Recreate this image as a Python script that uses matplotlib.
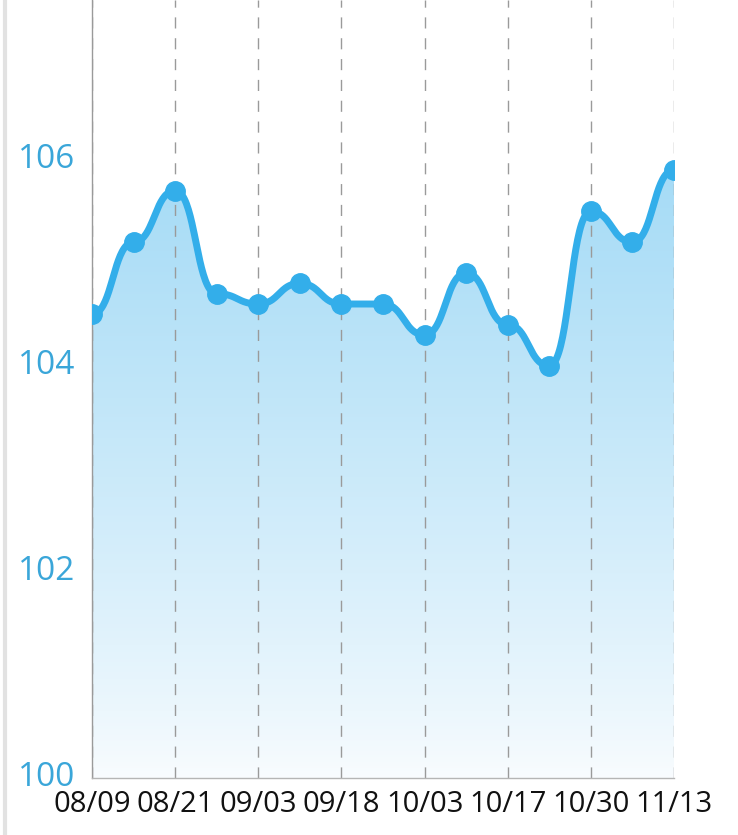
import numpy as np
import matplotlib.pyplot as plt
from matplotlib.lines import Line2D

dates = ['08/09', '', '08/21', '', '09/03', '', '09/18', '',
         '10/03', '', '10/17', '', '10/30', '', '11/13']
values = [104.5, 105.2, 105.7, 104.7, 104.6, 104.8, 104.6, 104.6,
          104.3, 104.9, 104.4, 104.0, 105.5, 105.2, 105.9]
yticks = [100, 102, 104, 106]

LINE = '#33aeea'
BLUE_TXT = '#3aa6d9'


def hbezier(x, y, n=40):
    # horizontal bezier: control points at mid x, same y as the ends
    xs, ys = [], []
    t = np.linspace(0, 1, n, endpoint=False)
    b0 = (1 - t) ** 3
    b1 = 3 * (1 - t) ** 2 * t
    b2 = 3 * (1 - t) * t ** 2
    b3 = t ** 3
    for i in range(len(x) - 1):
        x0, x1 = x[i], x[i + 1]
        y0, y1 = y[i], y[i + 1]
        xm = (x0 + x1) / 2
        xs.append(b0 * x0 + b1 * xm + b2 * xm + b3 * x1)
        ys.append(b0 * y0 + b1 * y0 + b2 * y1 + b3 * y1)
    xs.append([x[-1]])
    ys.append([y[-1]])
    return np.concatenate(xs), np.concatenate(ys)


x = np.arange(len(values))
sx, sy = hbezier(x, values)

fig = plt.figure(figsize=(7.38, 8.35), dpi=100)
ax = fig.add_axes([92 / 738, 57 / 835, 582 / 738, 778 / 835])
ymin, ymax = 100, 107.55
ax.set_xlim(0, len(values) - 1)
ax.set_ylim(ymin, ymax)

# gradient fill under the curve
grad = np.linspace(0, 1, 256).reshape(-1, 1)
top = np.array([0.65, 0.86, 0.965])
bot = np.array([0.975, 0.988, 0.997])
img = bot + (top - bot) * grad[..., None] ** 0.85
im = ax.imshow(img, extent=[0, len(values) - 1, ymin, max(values)],
               origin='lower', aspect='auto', zorder=1)
poly = ax.fill_between(sx, ymin, sy, color='none')
clip = poly.get_paths()[0]
im.set_clip_path(clip, transform=ax.transData)

for i in range(0, len(values), 2):
    ax.axvline(i, color='#9a9a9a', lw=1, ls=(0, (8, 7)), zorder=2)

ax.plot(sx, sy, color=LINE, lw=5, zorder=3, solid_capstyle='round')
ax.plot(x, values, 'o', color=LINE, ms=14, zorder=4)

ax.set_xticks(x)
ax.set_xticklabels(dates)
ax.set_yticks(yticks)
ax.tick_params(axis='both', length=0)
ax.tick_params(axis='x', pad=9, labelsize=21, labelcolor='#111111')
ax.tick_params(axis='y', pad=12, labelsize=24, labelcolor=BLUE_TXT)
for lab in ax.get_xticklabels() + ax.get_yticklabels():
    lab.set_fontfamily('Open Sans')
for lab in ax.get_yticklabels():
    lab.set_verticalalignment('center')

for s in ['top', 'right']:
    ax.spines[s].set_visible(False)
ax.spines['left'].set_color('#9a9a9a')
ax.spines['left'].set_linewidth(1)
ax.spines['bottom'].set_color('#b5b5b5')
ax.spines['bottom'].set_linewidth(1)

fig.add_artist(Line2D([5 / 738, 5 / 738], [0, 1], color='#e2e2e2', lw=3))

fig.savefig('out.png', dpi=100)
